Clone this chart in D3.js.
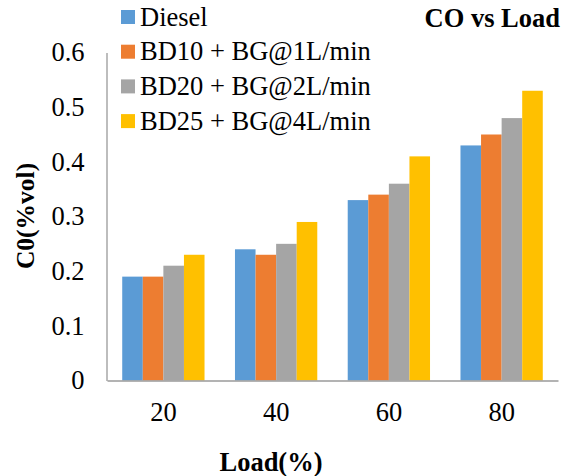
<!DOCTYPE html>
<html>
<head>
<meta charset="utf-8">
<script src="https://cdn.jsdelivr.net/npm/d3@7/dist/d3.min.js"></script>
<style>
  html, body { margin: 0; padding: 0; background: #fff; }
  svg { display: block; }
  text { font-family: "Liberation Serif", "Times New Roman", serif; fill: #000; }
</style>
</head>
<body>
<svg id="chart" width="563" height="476"></svg>
<script>
const categories = ["20", "40", "60", "80"];
const seriesNames = ["Diesel", "BD10 + BG@1L/min", "BD20 + BG@2L/min", "BD25 + BG@4L/min"];
const diesel = [0.19, 0.24, 0.33, 0.43];
const bd10 = [0.19, 0.23, 0.34, 0.45];
const bd20 = [0.21, 0.25, 0.36, 0.48];
const bd25 = [0.23, 0.29, 0.41, 0.53];
const yTicks = [0, 0.1, 0.2, 0.3, 0.4, 0.5, 0.6];
const yTickLabels = ["0", "0.1", "0.2", "0.3", "0.4", "0.5", "0.6"];
const colors = ["#5b9bd5", "#ed7d31", "#a5a5a5", "#ffc000"];
const chartTitle = "CO vs Load";
const xTitle = "Load(%)";
const yTitle = "C0(%vol)";

const seriesValues = [diesel, bd10, bd20, bd25];

const svg = d3.select("#chart");

const plotLeft = 107, plotRight = 558, plotTop = 52.5, plotBottom = 380.5;

const x0 = d3.scaleBand().domain(categories).range([plotLeft, plotRight])
  .paddingInner(0.27).paddingOuter(0.135);
const x1 = d3.scaleBand().domain(seriesNames).range([0, x0.bandwidth()]);
const y = d3.scaleLinear().domain([0, 0.6]).range([plotBottom, plotTop]);

// bars
const groups = svg.append("g").selectAll("g")
  .data(categories)
  .join("g")
  .attr("transform", d => `translate(${x0(d)},0)`);

groups.selectAll("rect")
  .data((d, i) => seriesNames.map((s, j) => ({ s, j, v: seriesValues[j][i] })))
  .join("rect")
  .attr("x", d => x1(d.s))
  .attr("width", x1.bandwidth())
  .attr("y", d => y(d.v))
  .attr("height", d => y(0) - y(d.v))
  .attr("fill", d => colors[d.j]);

// y axis
const yAxis = d3.axisLeft(y)
  .tickValues(yTicks)
  .tickFormat((d, i) => yTickLabels[i])
  .tickSize(0)
  .tickPadding(22);
const gy = svg.append("g").attr("transform", `translate(${plotLeft - 0.5},0)`).call(yAxis);
gy.attr("font-family", null).attr("font-size", null);
gy.select(".domain").attr("stroke", "#9a9a9a").attr("stroke-width", 1.3);
gy.selectAll("text").attr("font-size", 26.5).attr("fill", "#000");

// x axis
const xAxis = d3.axisBottom(x0).tickSize(0).tickPadding(22);
const gx = svg.append("g").attr("transform", `translate(0,${plotBottom})`).call(xAxis);
gx.attr("font-family", null).attr("font-size", null);
gx.select(".domain").attr("stroke", "#9a9a9a").attr("stroke-width", 1.3);
gx.selectAll("text").attr("font-size", 26.5).attr("fill", "#000");

// chart title
svg.append("text")
  .attr("x", 560).attr("y", 27)
  .attr("text-anchor", "end")
  .attr("font-size", 26.5).attr("font-weight", "bold")
  .text(chartTitle);

// axis titles
svg.append("text")
  .attr("x", 271).attr("y", 471)
  .attr("text-anchor", "middle")
  .attr("font-size", 26.5).attr("font-weight", "bold")
  .text(xTitle);

svg.append("text")
  .attr("transform", "translate(34,216) rotate(-90)")
  .attr("text-anchor", "middle")
  .attr("font-size", 25.5).attr("font-weight", "bold")
  .text(yTitle);

// legend
const legend = svg.append("g").selectAll("g")
  .data(seriesNames)
  .join("g")
  .attr("transform", (d, i) => `translate(121,${17 + i * 34.7})`);
legend.append("rect")
  .attr("x", 0).attr("y", -7).attr("width", 14).attr("height", 14)
  .attr("fill", (d, i) => colors[i]);
legend.append("text")
  .attr("x", 19).attr("y", 8.5)
  .attr("font-size", 26.5)
  .text(d => d);
</script>
</body>
</html>
